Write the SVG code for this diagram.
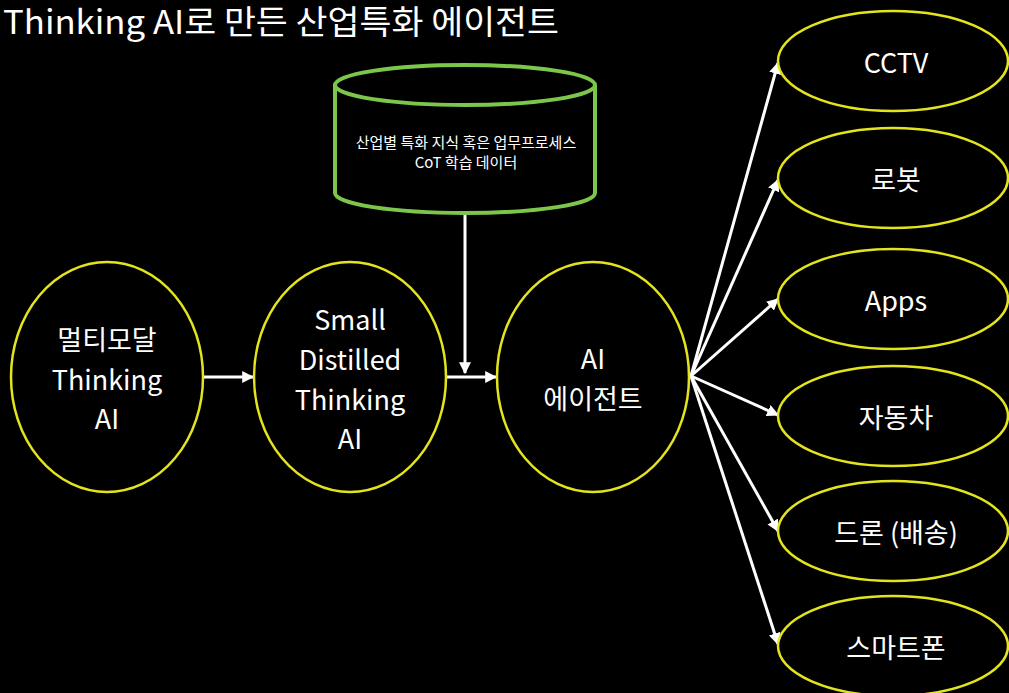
<svg xmlns="http://www.w3.org/2000/svg" width="1009" height="693" viewBox="0 0 1009 693">
<defs>
<marker id="ah" viewBox="0 0 10 10" refX="9" refY="5" markerWidth="4" markerHeight="4" markerUnits="strokeWidth" orient="auto">
<path d="M0,0 L10,5 L0,10 Z" fill="#ffffff"/>
</marker>
<style>
.n{fill:#000;stroke:#e4e41c;stroke-width:2.5}
.t{fill:#fff;font-family:"Noto Sans CJK KR","Noto Sans",sans-serif;text-anchor:middle;dominant-baseline:central}
.big{font-size:27px}
.c{stroke:#fff;stroke-width:3;fill:none;marker-end:url(#ah)}
</style>
</defs>
<rect width="1009" height="693" fill="#000"/>
<text x="3" y="34" fill="#fff" font-family="'Noto Sans CJK KR','Noto Sans',sans-serif" font-size="33" textLength="556" lengthAdjust="spacingAndGlyphs">Thinking AI로 만든 산업특화 에이전트</text>

<g id="connectors">
<line class="c" x1="203" y1="377" x2="253" y2="377"/>
<line class="c" x1="447" y1="377" x2="496" y2="377"/>
<line class="c" x1="465" y1="213" x2="465" y2="373"/>
<line class="c" x1="691" y1="376" x2="778" y2="63"/>
<line class="c" x1="691" y1="376" x2="778" y2="180"/>
<line class="c" x1="691" y1="376" x2="778" y2="299"/>
<line class="c" x1="691" y1="376" x2="778" y2="415"/>
<line class="c" x1="691" y1="376" x2="778" y2="531"/>
<line class="c" x1="691" y1="376" x2="778" y2="644"/>
</g>

<g id="data">
<path d="M335,85 L335,193 A130,20 0 0 0 595,193 L595,85" fill="#000" stroke="#7cc64c" stroke-width="4"/>
<ellipse cx="465" cy="85" rx="130" ry="20" fill="#000" stroke="#7cc64c" stroke-width="4"/>
<text class="t" x="466" y="141" font-size="15">산업별 특화 지식 혹은 업무프로세스</text>
<text class="t" x="466" y="161" font-size="15">CoT 학습 데이터</text>
</g>

<g id="multimodal">
<ellipse class="n" cx="107" cy="377" rx="96" ry="115"/>
<text class="t big" x="107" y="338">멀티모달</text>
<text class="t big" x="107" y="378">Thinking</text>
<text class="t big" x="107" y="417">AI</text>
</g>

<g id="small">
<ellipse class="n" cx="350" cy="377" rx="96" ry="115"/>
<text class="t big" x="350" y="318">Small</text>
<text class="t big" x="350" y="358">Distilled</text>
<text class="t big" x="350" y="398">Thinking</text>
<text class="t big" x="350" y="437">AI</text>
</g>

<g id="agent">
<ellipse class="n" cx="593" cy="377" rx="96" ry="115"/>
<text class="t big" x="593" y="357">AI</text>
<text class="t big" x="593" y="397">에이전트</text>
</g>

<g id="cctv">
<ellipse class="n" cx="893" cy="61" rx="115" ry="50"/>
<text class="t big" x="896" y="61">CCTV</text>
</g>
<g id="robot">
<ellipse class="n" cx="893" cy="178" rx="115" ry="50"/>
<text class="t big" x="896" y="178">로봇</text>
</g>
<g id="apps">
<ellipse class="n" cx="893" cy="299" rx="115" ry="50"/>
<text class="t big" x="896" y="299">Apps</text>
</g>
<g id="car">
<ellipse class="n" cx="893" cy="416" rx="115" ry="50"/>
<text class="t big" x="896" y="416">자동차</text>
</g>
<g id="drone">
<ellipse class="n" cx="893" cy="531" rx="115" ry="50"/>
<text class="t big" x="896" y="531">드론 (배송)</text>
</g>
<g id="phone">
<ellipse class="n" cx="893" cy="646" rx="115" ry="50"/>
<text class="t big" x="896" y="646">스마트폰</text>
</g>
</svg>
